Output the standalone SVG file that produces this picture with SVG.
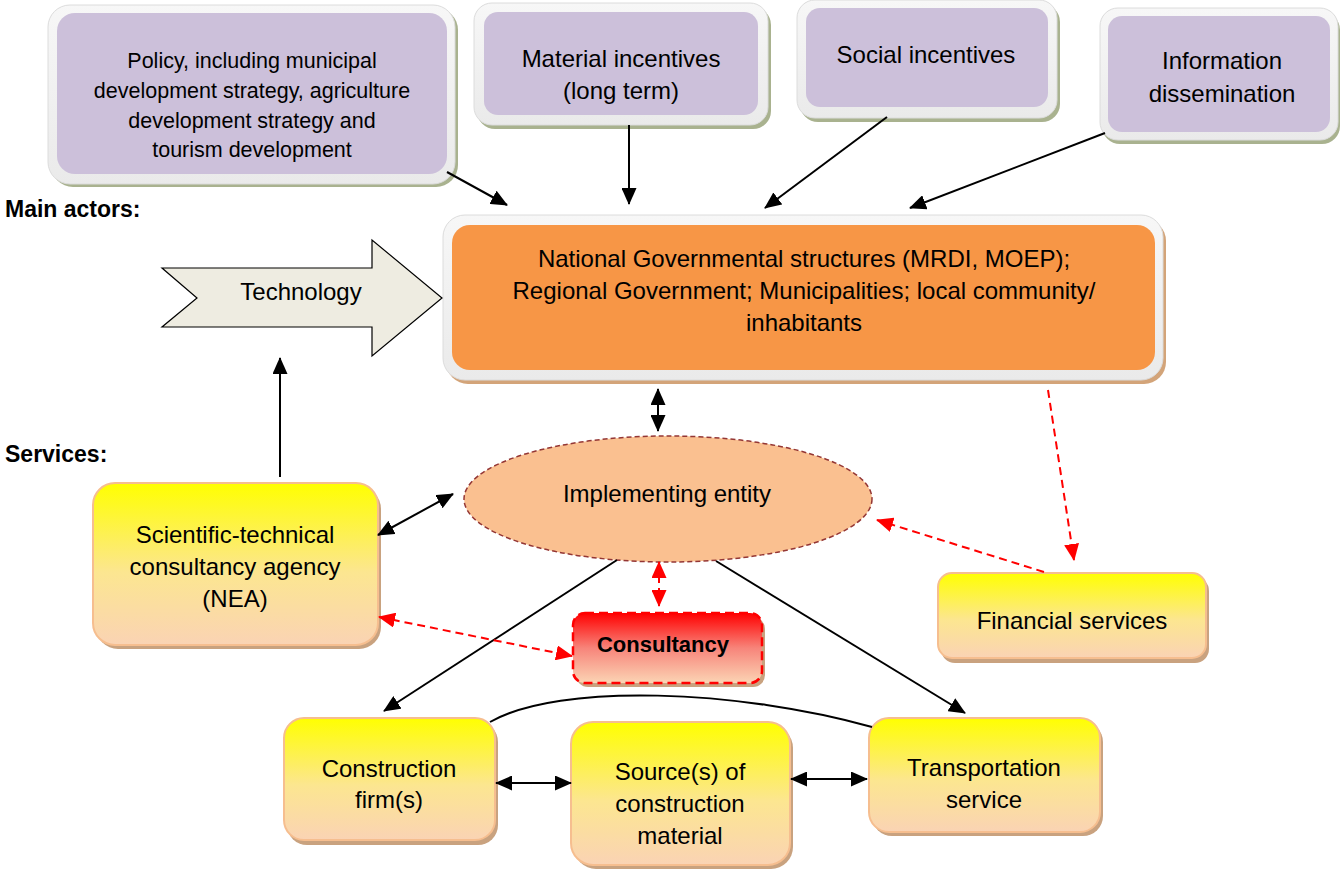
<svg xmlns="http://www.w3.org/2000/svg" width="1343" height="871" viewBox="0 0 1343 871">
<defs>
<linearGradient id="gy" x1="0" y1="0" x2="0" y2="1">
<stop offset="0" stop-color="#FFFF00"/>
<stop offset="0.55" stop-color="#FCE690"/>
<stop offset="1" stop-color="#FAD3B4"/>
</linearGradient>
<linearGradient id="gr" x1="0" y1="0" x2="0" y2="1">
<stop offset="0" stop-color="#FF0000"/>
<stop offset="0.5" stop-color="#F7847A"/>
<stop offset="1" stop-color="#FBD4B4"/>
</linearGradient>
<linearGradient id="gf" x1="0" y1="0" x2="0" y2="1">
<stop offset="0" stop-color="#F7F7F7"/>
<stop offset="1" stop-color="#EAEAEA"/>
</linearGradient>
<marker id="ab" markerUnits="userSpaceOnUse" markerWidth="17" markerHeight="15" refX="16" refY="7.5" orient="auto-start-reverse" viewBox="0 0 17 15">
<path d="M0,0 L17,7.5 L0,15 z" fill="#000"/>
</marker>
<marker id="ar" markerUnits="userSpaceOnUse" markerWidth="17" markerHeight="15" refX="16" refY="7.5" orient="auto-start-reverse" viewBox="0 0 17 15">
<path d="M0,0 L17,7.5 L0,15 z" fill="#FF0000"/>
</marker>
</defs>
<style>
text{font-family:"Liberation Sans",Arial,sans-serif;fill:#000;}
.t{font-size:24px;text-anchor:middle;}
.tp{font-size:21.5px;text-anchor:middle;}
.lb{font-size:23px;font-weight:bold;}
.shO{fill:#A9B28F;}
.frm{fill:url(#gf);stroke:#DCDCDC;stroke-width:1;}
.pur{fill:#CCC0DA;}
.shY{fill:#C9A27F;}
.yb{fill:url(#gy);stroke:#F6BE8F;stroke-width:2;}
.bk{stroke:#000;stroke-width:2;fill:none;}
.rd{stroke:#FF0000;stroke-width:2;fill:none;stroke-dasharray:8 5;}
</style>

<g id="label-main-actors"><text class="lb" x="5" y="217">Main actors:</text></g>
<g id="label-services"><text class="lb" x="5" y="462">Services:</text></g>

<g id="policy">
<rect class="shO" x="51" y="8" width="407" height="179" rx="22"/>
<rect class="frm" x="48" y="5" width="407" height="179" rx="22"/>
<rect class="pur" x="57" y="13" width="390" height="161" rx="18"/>
<text class="tp" x="252" y="68">Policy, including municipal</text>
<text class="tp" x="252" y="98">development strategy, agriculture</text>
<text class="tp" x="252" y="128">development strategy and</text>
<text class="tp" x="252" y="157">tourism development</text>
</g>

<g id="material">
<rect class="shO" x="477" y="7" width="294" height="122" rx="18"/>
<rect class="frm" x="474" y="3" width="294" height="122" rx="18"/>
<rect class="pur" x="484" y="12" width="274" height="103" rx="14"/>
<text class="t" x="621" y="67">Material incentives</text>
<text class="t" x="621" y="99">(long term)</text>
</g>

<g id="social">
<rect class="shO" x="800" y="4" width="260" height="118" rx="18"/>
<rect class="frm" x="797" y="0" width="260" height="118" rx="18"/>
<rect class="pur" x="806" y="8" width="242" height="99" rx="14"/>
<text class="t" x="926" y="63">Social incentives</text>
</g>

<g id="information">
<rect class="shO" x="1102" y="12" width="238" height="132" rx="18"/>
<rect class="frm" x="1100" y="8" width="238" height="132" rx="18"/>
<rect class="pur" x="1108" y="16" width="222" height="116" rx="14"/>
<text class="t" x="1222" y="69">Information</text>
<text class="t" x="1222" y="102">dissemination</text>
</g>

<g id="main-actors">
<rect fill="#D3A479" x="446" y="219" width="720" height="165" rx="22"/>
<rect class="frm" x="443" y="215" width="720" height="165" rx="22"/>
<rect fill="#F79646" x="452" y="225" width="703" height="145" rx="18"/>
<text class="t" x="804" y="267">National Governmental structures (MRDI, MOEP);</text>
<text class="t" x="804" y="299">Regional Government; Municipalities; local community/</text>
<text class="t" x="804" y="331">inhabitants</text>
</g>

<g id="technology">
<polygon points="162,268 372,268 372,240 442,298 372,356 372,327 162,327 197,298" fill="#EEECE1" stroke="#000" stroke-width="1.2"/>
<text class="t" x="301" y="300">Technology</text>
</g>

<g id="implementing-entity">
<ellipse cx="668" cy="499" rx="204" ry="63" fill="#FAC090" stroke="#943634" stroke-width="1.5" stroke-dasharray="5 3"/>
<text class="t" x="667" y="502">Implementing entity</text>
</g>

<g id="scientific">
<rect class="shY" x="96" y="487" width="285" height="162" rx="22"/>
<rect class="yb" x="93" y="483" width="285" height="162" rx="22"/>
<text class="t" x="235" y="543">Scientific-technical</text>
<text class="t" x="235" y="575">consultancy agency</text>
<text class="t" x="235" y="607">(NEA)</text>
</g>

<g id="consultancy">
<rect class="shY" x="576" y="617" width="189" height="70" rx="12"/>
<rect x="573" y="613" width="189" height="70" rx="12" fill="url(#gr)" stroke="#FF0000" stroke-width="2.5" stroke-dasharray="9 5"/>
<text x="663" y="652" style="font-size:22px;font-weight:bold;text-anchor:middle;">Consultancy</text>
</g>

<g id="financial">
<rect class="shY" x="941" y="577" width="268" height="86" rx="14"/>
<rect class="yb" x="938" y="573" width="268" height="85" rx="14"/>
<text class="t" x="1072" y="629">Financial services</text>
</g>

<g id="construction">
<rect class="shY" x="287" y="722" width="211" height="123" rx="20"/>
<rect class="yb" x="284" y="718" width="211" height="122" rx="20"/>
<text class="t" x="389" y="777">Construction</text>
<text class="t" x="389" y="808">firm(s)</text>
</g>

<g id="source">
<rect class="shY" x="574" y="726" width="219" height="143" rx="22"/>
<rect class="yb" x="571" y="722" width="219" height="143" rx="22"/>
<text class="t" x="680" y="780">Source(s) of</text>
<text class="t" x="680" y="812">construction</text>
<text class="t" x="680" y="844">material</text>
</g>

<g id="transport">
<rect class="shY" x="872" y="722" width="231" height="114" rx="20"/>
<rect class="yb" x="869" y="718" width="231" height="114" rx="20"/>
<text class="t" x="984" y="776">Transportation</text>
<text class="t" x="984" y="808">service</text>
</g>

<g id="connectors">
<path class="bk" d="M447,172 L507,205" marker-end="url(#ab)"/>
<path class="bk" d="M629,125 L629,204" marker-end="url(#ab)"/>
<path class="bk" d="M887,117 L765,208" marker-end="url(#ab)"/>
<path class="bk" d="M1105,133 L910,208" marker-end="url(#ab)"/>
<path class="bk" d="M280,477 L280,358" marker-end="url(#ab)"/>
<path class="bk" d="M658,389 L658,431" marker-start="url(#ab)" marker-end="url(#ab)"/>
<path class="bk" d="M378,535 L453,494" marker-start="url(#ab)" marker-end="url(#ab)"/>
<path class="bk" d="M617,560 L384,711" marker-end="url(#ab)"/>
<path class="bk" d="M716,561 L965,713" marker-end="url(#ab)"/>
<path class="bk" d="M496,783 L571,783" marker-start="url(#ab)" marker-end="url(#ab)"/>
<path class="bk" d="M791,779 L867,779" marker-start="url(#ab)" marker-end="url(#ab)"/>
<path class="bk" d="M490,722 C560,682 740,690 872,727"/>
<path class="rd" d="M379,617 L572,656" marker-start="url(#ar)" marker-end="url(#ar)"/>
<path class="rd" d="M659,562 L659,606" marker-start="url(#ar)" marker-end="url(#ar)"/>
<path class="rd" d="M1048,390 L1074,560" marker-end="url(#ar)"/>
<path class="rd" d="M1044,572 L877,520" marker-end="url(#ar)"/>
</g>
</svg>
